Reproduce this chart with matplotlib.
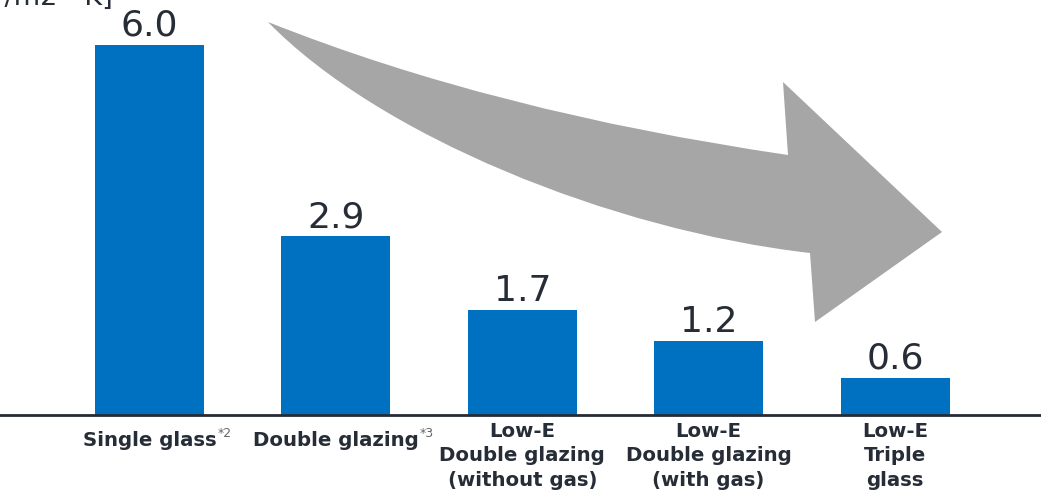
import matplotlib.pyplot as plt
from matplotlib.path import Path
from matplotlib.patches import PathPatch

# U-value of window glass types
categories = ["Single glass", "Double glazing", "Low-E\nDouble glazing\n(without gas)",
              "Low-E\nDouble glazing\n(with gas)", "Low-E\nTriple\nglass"]
notes = ["*2", "*3", "", "", ""]
values = [6.0, 2.9, 1.7, 1.2, 0.6]
unit = "[W/m2・K]"

W, H = 1041, 496
bar_color = "#0070c0"
text_color = "#262d36"

fig = plt.figure(figsize=(W / 100, H / 100), dpi=100)
ax = fig.add_axes([0, 0, 1, 1])
ax.set_xlim(-0.802, 4.783)
ax.set_ylim(-1.313, 6.726)
ax.axis("off")

x = list(range(len(values)))
bars = ax.bar(x, values, width=0.585, color=bar_color, zorder=2)
ax.axhline(0, color="#262c33", lw=2, zorder=3)

# value labels
for xi, v in zip(x, values):
    ax.annotate(f"{v:.1f}", (xi, v), xytext=(0, 6.5), textcoords="offset points",
                ha="center", va="baseline", fontsize=26, color=text_color)

# category labels (+ footnote marks)
for xi, lab, nt in zip(x, categories, notes):
    off = -5 if "\n" in lab else -11.5
    t = ax.annotate(lab, (xi, 0), xytext=(0, off), textcoords="offset points",
                    ha="center", va="top", fontsize=14.2, fontweight="bold",
                    color=text_color, linespacing=1.36)
    if nt:
        ax.annotate(nt, xy=(1, 0.55), xycoords=t, xytext=(1, 0),
                    textcoords="offset points", ha="left", va="bottom",
                    fontsize=9, color="#666666")

# unit label (mostly cut off at the top edge)
fig.text(113 / W, 1 - 5 / H, unit, ha="right", va="baseline", fontsize=19.5,
         color=text_color, family=["DejaVu Sans", "Noto Sans CJK JP"])

# big curved arrow going down to the right
def px(p):
    return (p[0] / W, 1 - p[1] / H)

pts = [(268, 22), (494, 112), (788, 155), (783, 82), (942, 232),
       (815, 322), (810, 253), (610, 230), (378, 135), (268, 22), (268, 22)]
codes = [Path.MOVETO, Path.CURVE3, Path.CURVE3, Path.LINETO, Path.LINETO,
         Path.LINETO, Path.LINETO, Path.CURVE4, Path.CURVE4, Path.CURVE4,
         Path.CLOSEPOLY]
arrow = PathPatch(Path([px(p) for p in pts], codes), transform=fig.transFigure,
                  facecolor="#a6a6a6", edgecolor="none", zorder=1)
fig.patches.append(arrow)

fig.savefig("out.png", dpi=100)
